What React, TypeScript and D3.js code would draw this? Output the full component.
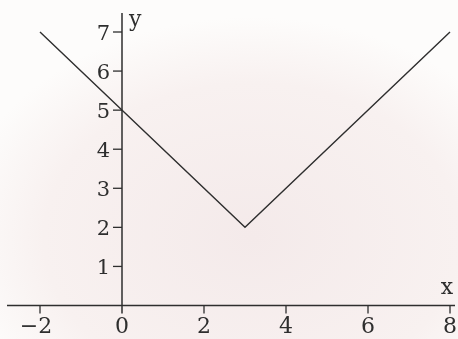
import React, { useEffect, useRef } from "react";
import * as d3 from "d3";

const W = 458;
const H = 339;

// Graph of y = |x - 3| + 2 sampled at its end points and its vertex
const xValues = [-2, 3, 8];
const yValues = [7, 2, 7];

const xTicks = [-2, 0, 2, 4, 6, 8];
const yTicks = [1, 2, 3, 4, 5, 6, 7];
const xTickLabels = ["−2", "0", "2", "4", "6", "8"];
const yTickLabels = ["1", "2", "3", "4", "5", "6", "7"];

const INK = "#2e2e2e";
const FONT = "'DejaVu Serif', 'Liberation Serif', serif";

export default function App() {
  const ref = useRef<SVGSVGElement | null>(null);

  useEffect(() => {
    const svg = d3.select(ref.current);
    svg.selectAll("*").remove();

    const x = d3.scaleLinear().domain([-2, 8]).range([40, 450]);
    const y = d3.scaleLinear().domain([0, 7]).range([305.5, 32]);

    // paper background with a faint warm tint
    const defs = svg.append("defs");
    const grad = defs
      .append("radialGradient")
      .attr("id", "paper")
      .attr("cx", "0.55")
      .attr("cy", "0.7")
      .attr("r", "0.65");
    grad.append("stop").attr("offset", "0").attr("stop-color", "#f4eaea");
    grad.append("stop").attr("offset", "0.7").attr("stop-color", "#f8f1f0");
    grad.append("stop").attr("offset", "1").attr("stop-color", "#fdfcfb");
    svg.append("rect").attr("width", W).attr("height", H).attr("fill", "url(#paper)");

    const g = svg.append("g");

    // x axis
    g.append("line")
      .attr("x1", 7)
      .attr("x2", 455)
      .attr("y1", y(0))
      .attr("y2", y(0))
      .attr("stroke", INK)
      .attr("stroke-width", 1.5);
    g.selectAll(".xt")
      .data(xTicks.filter((d) => d !== 0))
      .join("line")
      .attr("x1", (d) => x(d))
      .attr("x2", (d) => x(d))
      .attr("y1", y(0))
      .attr("y2", y(0) + 8)
      .attr("stroke", INK)
      .attr("stroke-width", 1.3);
    g.selectAll(".xl")
      .data(xTicks)
      .join("text")
      .attr("x", (d) => x(d) + (d === -2 ? -4 : 0))
      .attr("y", 333)
      .attr("text-anchor", "middle")
      .attr("font-family", FONT)
      .attr("font-size", 22)
      .attr("fill", INK)
      .text((d, i) => xTickLabels[i]);

    // y axis
    g.append("line")
      .attr("x1", x(0))
      .attr("x2", x(0))
      .attr("y1", 13)
      .attr("y2", y(0) + 8)
      .attr("stroke", INK)
      .attr("stroke-width", 1.5);
    g.selectAll(".yt")
      .data(yTicks)
      .join("line")
      .attr("x1", x(0) - 9)
      .attr("x2", x(0))
      .attr("y1", (d) => y(d))
      .attr("y2", (d) => y(d))
      .attr("stroke", INK)
      .attr("stroke-width", 1.3);
    g.selectAll(".yl")
      .data(yTicks)
      .join("text")
      .attr("x", x(0) - 12)
      .attr("y", (d) => y(d))
      .attr("dy", "0.36em")
      .attr("text-anchor", "end")
      .attr("font-family", FONT)
      .attr("font-size", 21)
      .attr("fill", INK)
      .text((d, i) => yTickLabels[i]);

    // axis names
    g.append("text")
      .attr("x", x(0) + 7)
      .attr("y", 26)
      .attr("font-family", FONT)
      .attr("font-size", 22)
      .attr("fill", INK)
      .text("y");
    g.append("text")
      .attr("x", 447)
      .attr("y", 294)
      .attr("text-anchor", "middle")
      .attr("font-family", FONT)
      .attr("font-size", 22)
      .attr("fill", INK)
      .text("x");

    // the V-shaped graph
    const pts: [number, number][] = xValues.map((v, i) => [v, yValues[i]]);
    const line = d3
      .line<[number, number]>()
      .x((d) => x(d[0]))
      .y((d) => y(d[1]));
    g.append("path")
      .attr("d", line(pts))
      .attr("fill", "none")
      .attr("stroke", INK)
      .attr("stroke-width", 1.4)
      .attr("stroke-linejoin", "miter");
  }, []);

  return (
    <svg
      ref={ref}
      width={W}
      height={H}
      style={{ position: "fixed", left: 0, top: 0, display: "block" }}
    />
  );
}
